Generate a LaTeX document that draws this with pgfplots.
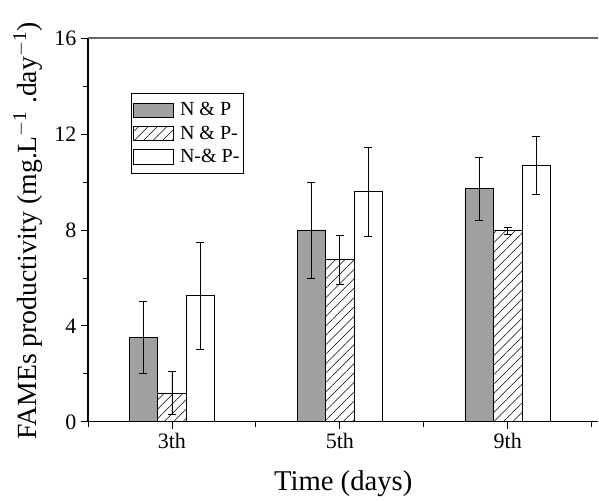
\documentclass[border=0pt]{standalone}
\usepackage{pgfplots}
\pgfplotsset{compat=1.18}
\usepackage{fontspec}
\setmainfont{Liberation Serif}
\usetikzlibrary{patterns.meta}
\definecolor{barGray}{RGB}{160,160,160}
\begin{document}
\begin{tikzpicture}
\begin{axis}[
  name=ax,
  scale only axis,
  width=383pt, height=288pt,
  ybar=0pt, bar width=0.17,
  xmin=-0.5, xmax=2.54,
  ymin=0, ymax=16,
  axis y line*=left,
  axis x line*=bottom,
  x axis line style={-},
  y axis line style={-},
  xtick={0,1,2},
  xticklabels={3th,5th,9th},
  minor xtick={-0.5,0.5,1.5,2.5},
  ytick={0,4,8,12,16},
  minor ytick={2,6,10,14},
  tick align=outside,
  major tick length=5pt,
  minor tick length=3.5pt,
  tick style={black, line width=0.6pt},
  every axis/.append style={line width=0.8pt},
  /pgf/number format/assume math mode=true,
  tick label style={font=\fontsize{16.5}{18}\selectfont},
  xlabel={Time (days)},
  ylabel={FAMEs productivity (mg.L$^{\mathrm{-1}}$ .day$^{\mathrm{-1}}$)},
  xlabel style={font=\fontsize{21.5}{24}\selectfont, yshift=-9pt},
  ylabel style={font=\fontsize{20.8}{24}\selectfont, at={(ticklabel cs:0.497)}, yshift=2pt},
  legend style={at={(0.084,0.857)}, anchor=north west, draw=black, line width=0.6pt,
    font=\fontsize{15}{17}\selectfont, row sep=2pt, inner xsep=1pt, inner ysep=5pt,
    cells={anchor=west}},
  legend image code/.code={\draw[#1] (0pt,-5.5pt) rectangle (30pt,5.5pt); \path (33pt,0pt);},
  error bars/error bar style={black, line width=0.6pt},
  error bars/error mark options={rotate=90, mark size=3pt, line width=0.6pt},
]
\addplot[fill=barGray, draw=black, line width=0.6pt,
  error bars/.cd, y dir=both, y explicit]
  coordinates {(0,3.53) +- (0,1.51) (1,8.0) +- (0,2.0) (2,9.72) +- (0,1.32)};
\addplot[pattern={Lines[angle=45,distance=5pt,line width=0.4pt]}, draw=black, line width=0.6pt,
  error bars/.cd, y dir=both, y explicit]
  coordinates {(0,1.19) +- (0,0.9) (1,6.76) +- (0,1.03) (2,7.96) +- (0,0.16)};
\addplot[fill=white, draw=black, line width=0.6pt,
  error bars/.cd, y dir=both, y explicit]
  coordinates {(0,5.26) +- (0,2.24) (1,9.6) +- (0,1.85) (2,10.67) +- (0,1.21)};
\legend{N \& P, N \& P-, N-\& P-}
\draw[gray!80!black, line width=0.8pt] (rel axis cs:0,1) -- (rel axis cs:1,1);
\end{axis}
\path (ax.south west) ++(-66pt,-54.75pt) (ax.north east) ++(0pt,28.5pt);
\end{tikzpicture}
\end{document}
